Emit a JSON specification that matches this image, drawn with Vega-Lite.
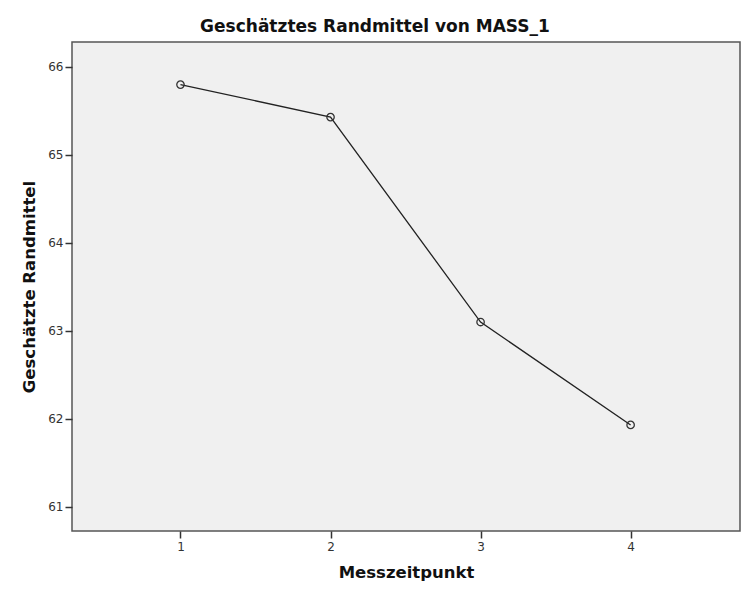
{
  "$schema": "https://vega.github.io/schema/vega-lite/v6.json",
  "autosize": "none",
  "width": 668,
  "height": 489,
  "padding": {"left": 72, "top": 42, "right": 10, "bottom": 70},
  "background": "white",
  "title": {
    "text": "Geschätztes Randmittel von MASS_1",
    "font": "DejaVu Sans",
    "fontSize": 17,
    "fontWeight": "bold",
    "color": "#111111",
    "anchor": "middle",
    "frame": "group",
    "dx": -31,
    "offset": 6
  },
  "config": {
    "view": {"fill": "#f0f0f0", "stroke": "#555555", "strokeWidth": 1.5},
    "axis": {
      "labelFont": "DejaVu Sans",
      "labelFontSize": 12,
      "labelColor": "#333333",
      "titleFont": "DejaVu Sans",
      "titleFontSize": 16.5,
      "titleFontWeight": "bold",
      "titleColor": "#111111",
      "grid": false,
      "domain": false,
      "tickColor": "#333333",
      "tickWidth": 1.5,
      "tickSize": 7
    }
  },
  "data": {
    "values": [
      {"Messzeitpunkt": 1, "Randmittel": 65.80},
      {"Messzeitpunkt": 2, "Randmittel": 65.43},
      {"Messzeitpunkt": 3, "Randmittel": 63.10},
      {"Messzeitpunkt": 4, "Randmittel": 61.93}
    ]
  },
  "encoding": {
    "x": {
      "field": "Messzeitpunkt",
      "type": "quantitative",
      "title": "Messzeitpunkt",
      "scale": {"domain": [0.277, 4.729], "nice": false, "zero": false},
      "axis": {"values": [1, 2, 3, 4], "labelPadding": 3, "titlePadding": 12}
    },
    "y": {
      "field": "Randmittel",
      "type": "quantitative",
      "title": "Geschätzte Randmittel",
      "scale": {"domain": [60.724, 66.284], "nice": false, "zero": false},
      "axis": {"values": [61, 62, 63, 64, 65, 66], "labelPadding": 2, "titlePadding": 10}
    }
  },
  "layer": [
    {
      "mark": {"type": "line", "color": "#222222", "strokeWidth": 1.3}
    },
    {
      "mark": {"type": "point", "shape": "circle", "filled": false, "size": 55, "color": "#333333", "strokeWidth": 1.3, "opacity": 1}
    }
  ]
}
